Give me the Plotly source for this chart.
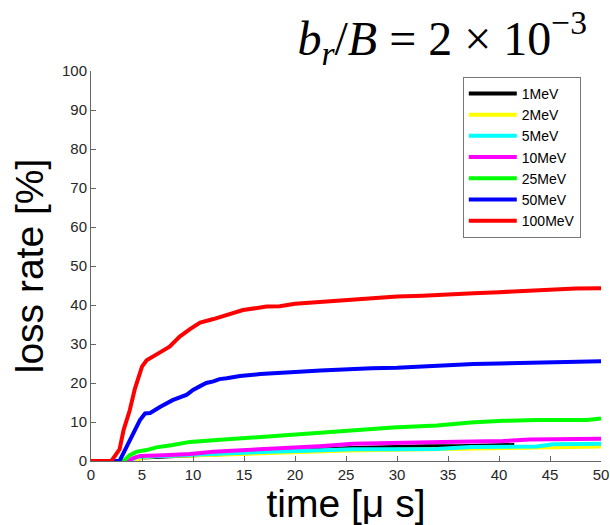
import plotly.graph_objects as go

names = ["1MeV", "2MeV", "5MeV", "10MeV", "25MeV", "50MeV", "100MeV"]
colors = ["#000000", "#ffff00", "#00ffff", "#ff00ff", "#00ff00", "#0000ff", "#ff0000"]

t_1 = [0, 4.0, 5, 7, 10, 15, 20, 25, 30, 33, 36, 39, 41.5]
v_1 = [0, 0, 0.9, 1.2, 1.5, 2.0, 2.5, 3.3, 3.7, 3.8, 3.8, 4.1, 4.1]

t_2 = [0, 4.0, 5, 6.4, 10, 15, 20, 25, 30, 35, 40, 45, 50]
v_2 = [0, 0, 0.8, 1.3, 1.4, 1.9, 2.3, 2.7, 2.9, 3.1, 3.4, 3.6, 3.7]

t_5 = [0, 3.8, 4.5, 7, 9.7, 12, 15, 17.5, 21, 25.7, 30, 33.9, 37.2, 43.7, 45.3, 50]
v_5 = [0, 0, 1.0, 1.3, 1.5, 1.9, 2.2, 2.4, 2.6, 3.0, 3.0, 3.1, 3.6, 3.7, 4.3, 4.4]

t_10 = [0, 3.7, 4.1, 4.8, 7.1, 9.7, 12.0, 15.3, 18.5, 22.4, 25.7, 30, 34.5, 40.4, 43, 50]
v_10 = [0, 0, 0.7, 1.3, 1.5, 1.8, 2.4, 2.8, 3.2, 3.8, 4.4, 4.7, 4.9, 5.1, 5.5, 5.7]

t_25 = [0, 3.2, 3.8, 4.5, 5.45, 6.4, 8.0, 9.7, 12.0, 14.6, 17.2, 18.5, 21.5, 25.7, 29.6, 33.9, 37.2, 40.4, 43.7, 48.6, 50]
v_25 = [0, 0, 1.5, 2.4, 2.8, 3.5, 4.1, 4.9, 5.3, 5.8, 6.3, 6.6, 7.1, 7.8, 8.6, 9.1, 9.9, 10.3, 10.5, 10.5, 10.9]

t_50 = [0, 2.8, 3.5, 4.1, 4.8, 5.3, 5.8, 6.8, 8.0, 9.4, 10.0, 10.7, 11.3, 12.0, 12.6, 13.3, 14.6, 16.6, 18.5,
        20, 22.5, 25, 27.5, 30, 32.5, 35, 37.5, 40, 42.5, 45, 47.5, 50]
v_50 = [0, 0, 3.7, 7.1, 10.5, 12.2, 12.3, 13.9, 15.6, 17.0, 18.2, 19.2, 20.0, 20.4, 21.0, 21.2, 21.8, 22.3, 22.7,
        22.8, 23.2, 23.6, 23.8, 23.9, 24.2, 24.7, 24.9, 25.0, 25.1, 25.4, 25.5, 25.6]

t_100 = [0, 2.0, 2.4, 2.8, 3.2, 3.8, 4.3, 4.7, 5.0, 5.45, 6.0, 6.6, 7.7, 8.7, 9.7, 10.7, 12.0, 13.3, 14.9, 17.2,
         18.5, 20, 22.5, 25, 27.5, 30, 32.5, 35, 37.5, 40, 42.5, 45, 47.5, 50]
v_100 = [0, 0, 1.5, 3, 8, 13, 18.5, 22, 24.2, 25.8, 26.8, 27.6, 29.3, 31.9, 33.8, 35.5, 36.4, 37.4, 38.7, 39.6,
         39.7, 40.3, 40.8, 41.3, 41.8, 42.2, 42.4, 42.8, 43.0, 43.3, 43.6, 44.0, 44.2, 44.3]

times = [t_1, t_2, t_5, t_10, t_25, t_50, t_100]
values = [v_1, v_2, v_5, v_10, v_25, v_50, v_100]

x_ticks = [0, 5, 10, 15, 20, 25, 30, 35, 40, 45, 50]
y_ticks = [0, 10, 20, 30, 40, 50, 60, 70, 80, 90, 100]

fig = go.Figure()
for n, c, t, v in zip(names, colors, times, values):
    fig.add_trace(go.Scatter(x=t, y=v, mode="lines", name=n,
                             line=dict(color=c, width=4)))

axis_common = dict(showgrid=False, zeroline=False, showline=True, linecolor="#666666", linewidth=1,
                   ticks="inside", ticklen=5, tickcolor="#666666", automargin=False,
                   tickfont=dict(family="Arial, Liberation Sans", size=15, color="#262626"))

fig.update_layout(
    width=610, height=525,
    margin=dict(l=91, r=9, t=71, b=64),
    paper_bgcolor="white", plot_bgcolor="white",
    title=dict(text="<i>b<sub>r</sub></i>/<i>B</i> = 2 × 10<sup>−3</sup>",
               font=dict(family="Liberation Serif, DejaVu Serif", size=48, color="black"),
               x=0.725, xref="container", xanchor="center",
               y=0.928, yref="container", yanchor="middle"),
    xaxis=dict(range=[0, 50], tickvals=x_ticks,
               title=dict(text="time [μ s]", font=dict(family="Arial, Liberation Sans", size=39, color="black"),
                          standoff=0),
               **axis_common),
    yaxis=dict(range=[0, 100], tickvals=y_ticks,
               title=dict(text="loss rate [%]", font=dict(family="Arial, Liberation Sans", size=39, color="black"),
                          standoff=6),
               **axis_common),
    legend=dict(x=0.729, y=0.985, xanchor="left", yanchor="top",
                bgcolor="white", bordercolor="#777777", borderwidth=1,
                font=dict(family="Arial, Liberation Sans", size=14, color="black"),
                tracegroupgap=0, itemwidth=48),
    showlegend=True,
)

fig.write_html("out.html")
